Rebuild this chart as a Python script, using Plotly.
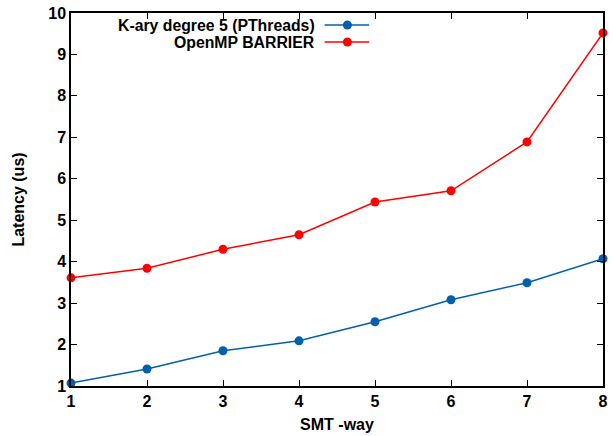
import plotly.graph_objects as go

smt_way = [1, 2, 3, 4, 5, 6, 7, 8]
kary_latency = [1.07, 1.41, 1.85, 2.09, 2.55, 3.08, 3.49, 4.07]
omp_latency = [3.61, 3.84, 4.30, 4.65, 5.44, 5.71, 6.89, 9.52]
series_names = ["K-ary degree 5 (PThreads)", "OpenMP BARRIER"]
series_colors = ["#0060ad", "#ff0000"]
y_ticks = [1, 2, 3, 4, 5, 6, 7, 8, 9, 10]

FONT = "Liberation Sans"
FS = 16

fig = go.Figure()
for name, vals, col in zip(series_names, [kary_latency, omp_latency], series_colors):
    fig.add_trace(go.Scatter(
        x=smt_way, y=vals, mode="lines+markers", name=name,
        line=dict(color=col, width=1.5),
        marker=dict(color=col, size=9, symbol="circle"),
        showlegend=False, cliponaxis=False,
    ))

# manual gnuplot-style legend (text right-aligned, sample on the right)
L, R, T, B = 71, 608, 13, 386
W, H = R - L, B - T
def px(x):
    return (x - L) / W
def py(y):
    return (B - y) / H

legend_rows = [25, 42]
for name, col, row in zip(series_names, series_colors, legend_rows):
    fig.add_annotation(x=px(319), y=py(row), xref="paper", yref="paper",
                       text="<b>" + name + "</b>", showarrow=False,
                       xanchor="right", yanchor="middle",
                       font=dict(family=FONT, size=15.8, color="black"))
    fig.add_shape(type="line", xref="paper", yref="paper",
                  x0=px(327), x1=px(372), y0=py(row), y1=py(row),
                  line=dict(color=col, width=1.5))
    fig.add_shape(type="circle", xref="paper", yref="paper",
                  xsizemode="pixel", ysizemode="pixel",
                  xanchor=px(350), yanchor=py(row),
                  x0=-4.5, x1=4.5, y0=-4.5, y1=4.5,
                  fillcolor=col, line=dict(color=col, width=0))

axis_common = dict(
    showline=True, linecolor="black", linewidth=1.5, mirror="allticks",
    ticks="inside", ticklen=6, tickwidth=1, tickcolor="black",
    showgrid=False, zeroline=False,
    tickfont=dict(family=FONT, size=FS, color="black"),
)

fig.update_layout(
    width=613, height=436,
    margin=dict(l=L, r=613 - R, t=T, b=436 - B),
    paper_bgcolor="white", plot_bgcolor="white",
    font=dict(family=FONT, size=FS, color="black"),
    xaxis=dict(range=[1, 8], tickvals=smt_way,
               ticktext=["<b>%d</b>" % v for v in smt_way],
               title=dict(text="<b>SMT -way</b>", standoff=10,
                          font=dict(family=FONT, size=FS)),
               **axis_common),
    yaxis=dict(range=[1, 10], tickvals=y_ticks,
               ticktext=["<b>%d</b>" % v for v in y_ticks],
               title=dict(text="<b>Latency (us)</b>", standoff=20,
                          font=dict(family=FONT, size=FS)),
               **axis_common),
)

fig.write_html("out.html")
